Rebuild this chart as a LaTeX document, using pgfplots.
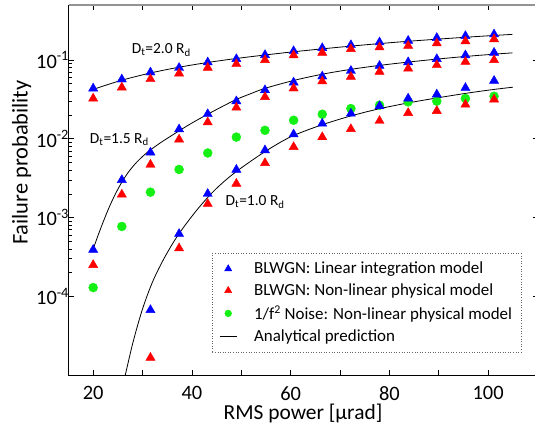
\documentclass[border=0pt]{standalone}
\usepackage{fontspec}
\setmainfont{Carlito}
\usepackage{pgfplots}
\pgfplotsset{compat=1.18}
\usepackage{pgfplotstable}

\definecolor{myblue}{RGB}{0,0,255}
\definecolor{myred}{RGB}{255,0,0}
\definecolor{mygreen}{RGB}{20,240,20}

\pgfplotstableread{
x     b2     r2     b15     r15     b10     r10     g
20.0  0.0436 0.0325 3.9e-4  2.5e-4  nan     nan     1.29e-4
25.8  0.0568 0.0449 3.0e-3  1.96e-3 nan     nan     7.7e-4
31.6  0.0697 0.0573 6.7e-3  4.7e-3  6.7e-5  1.66e-5 2.1e-3
37.4  0.0797 0.0676 0.0132  9.8e-3  6.2e-4  4.07e-4 4.08e-3
43.2  0.0935 0.0800 0.0206  0.0162  2.0e-3  1.49e-3 6.6e-3
49.0  0.103  0.0889 0.030   0.0249  4.05e-3 2.69e-3 0.0105
54.8  0.116  0.100  0.0415  0.034   7.15e-3 4.92e-3 0.0128
60.6  0.130  0.115  0.052   0.0437  0.0114  7.87e-3 0.0172
66.4  0.142  0.124  0.062   0.0537  0.0156  0.0105  0.0205
72.2  0.155  0.138  0.073   0.0614  0.0209  0.0133  0.0242
78.0  0.168  0.145  0.0847  0.071   0.026   0.0169  0.0267
83.8  0.176  0.152  0.094   0.078   0.0325  0.0213  0.0294
89.6  0.191  0.163  0.103   0.0863  0.0366  0.0226  0.030
95.4  0.202  0.173  0.115   0.095   0.0443  0.0272  0.0325
101.2 0.212  0.184  0.124   0.100   0.0546  0.0316  0.0347
}\pts

\pgfplotstableread{
x     y
20.0  0.0424
25.7  0.0552
31.7  0.0687
37.5  0.0813
43.3  0.0933
49.0  0.1047
54.8  0.1159
60.6  0.1274
66.4  0.1387
72.2  0.1503
78.0  0.1618
83.8  0.173
89.5  0.1837
95.3  0.1945
101.1 0.2051
104.9 0.2118
}\lineA

\pgfplotstableread{
x     y
20.0  3.98e-4
21.0  5.96e-4
22.0  8.71e-4
23.0  1.245e-3
24.0  1.718e-3
25.0  2.29e-3
26.0  2.95e-3
27.0  3.67e-3
28.0  4.42e-3
29.0  5.19e-3
30.0  5.96e-3
31.0  6.76e-3
32.5  7.94e-3
34.0  9.23e-3
35.5  0.0106
37.5  0.01274
40.0  0.01585
43.0  0.0202
46.0  0.0254
49.0  0.0316
52.0  0.0376
54.8  0.0437
60.6  0.0550
66.4  0.0661
72.2  0.0762
78.0  0.0855
83.8  0.0942
89.5  0.1026
95.3  0.1109
101.1 0.1186
104.9 0.1233
}\lineB

\pgfplotstableread{
x     y
26.0  7.24e-6
28.0  2.51e-5
30.0  6.92e-5
32.0  1.51e-4
34.0  2.75e-4
36.0  4.57e-4
38.0  7.08e-4
41.0  1.245e-3
44.0  2.04e-3
47.0  3.05e-3
50.0  4.27e-3
55.0  7.0e-3
60.0  0.01059
66.0  0.01479
72.0  0.01936
78.0  0.0241
84.0  0.0287
90.0  0.0333
96.0  0.0382
101.0 0.0422
105.0 0.0452
}\lineC

\begin{document}
\begin{tikzpicture}
\begin{axis}[
  name=ax,
  scale only axis,
  width=469bp, height=370bp,
  ymode=log,
  xmin=15, xmax=110, ymin=1e-5, ymax=0.5,
  xtick={20,30,...,100},
  xticklabels={20,,40,,60,,80,,100},
  ytick={1e-4,1e-3,1e-2,1e-1},
  yticklabels={10\textsuperscript{-4},10\textsuperscript{-3},10\textsuperscript{-2},10\textsuperscript{-1}},
  tick align=inside,
  major tick length=5bp, minor tick length=3bp,
  axis line style={black, line width=0.8bp},
  tick style={black, line width=0.6bp},
  ticklabel style={font=\fontsize{20.5}{22}\selectfont},
  xticklabel style={yshift=-8bp},
  yticklabel style={xshift=4bp},
  xlabel={RMS power [μrad]},
  ylabel={Failure probability},
  xlabel style={font=\fontsize{21.5}{24}\selectfont, yshift=3bp},
  ylabel style={font=\fontsize{22.5}{24}\selectfont, at={(axis description cs:-0.1,0.574)}, anchor=center},
  clip=true,
  legend cell align=left,
  legend style={at={(0.306,0.330)}, anchor=north west,
    draw=black!60, dotted, line width=0.6bp,
    font=\fontsize{17}{19}\selectfont, row sep=4.5bp,
    inner xsep=7bp, inner ysep=7bp,
    /tikz/every odd column/.append style={column sep=15bp}},
  after end axis/.code={
    \draw[gray!85, line width=1.4bp] (rel axis cs:0,1) -- (rel axis cs:1,1);
  },
]
\addlegendimage{only marks, solid, mark=triangle*, mark size=4bp, color=myblue}
\addlegendentry{BLWGN: Linear integration model}
\addlegendimage{only marks, solid, mark=triangle*, mark size=4bp, color=myred}
\addlegendentry{BLWGN: Non-linear physical model}
\addlegendimage{only marks, solid, mark=*, mark size=3.3bp, color=mygreen}
\addlegendentry{1/f\textsuperscript{2} Noise: Non-linear physical model}
\addlegendimage{solid, black, line width=0.8bp}
\addlegendentry{Analytical prediction}

\addplot[forget plot, only marks, mark=*, mark size=4.5bp, color=mygreen] table[x=x, y=g] {\pts};
\addplot[forget plot, only marks, mark=triangle*, mark size=5.3bp, color=myblue] table[x=x, y=b2] {\pts};
\addplot[forget plot, only marks, mark=triangle*, mark size=5.3bp, color=myblue] table[x=x, y=b15] {\pts};
\addplot[forget plot, only marks, mark=triangle*, mark size=5.3bp, color=myblue] table[x=x, y=b10] {\pts};
\addplot[forget plot, only marks, mark=triangle*, mark size=5.3bp, color=myred] table[x=x, y=r2] {\pts};
\addplot[forget plot, only marks, mark=triangle*, mark size=5.3bp, color=myred] table[x=x, y=r15] {\pts};
\addplot[forget plot, only marks, mark=triangle*, mark size=5.3bp, color=myred] table[x=x, y=r10] {\pts};
\addplot[forget plot, black, line width=0.8bp, smooth, no marks] table {\lineA};
\addplot[forget plot, black, line width=0.8bp, smooth, no marks] table {\lineB};
\addplot[forget plot, black, line width=0.8bp, smooth, no marks] table {\lineC};

\node[font=\fontsize{15.5}{18}\selectfont] at (axis cs:33.8,0.134) {D\textsubscript{t}=2.0 R\textsubscript{d}};
\node[font=\fontsize{15.5}{18}\selectfont] at (axis cs:25.3,0.0098) {D\textsubscript{t}=1.5 R\textsubscript{d}};
\node[font=\fontsize{15.5}{18}\selectfont] at (axis cs:52.8,0.00158) {D\textsubscript{t}=1.0 R\textsubscript{d}};
\end{axis}
\pgfresetboundingbox
\useasboundingbox ([xshift=-68.5bp,yshift=-56bp]ax.south west) rectangle ([xshift=-2.5bp,yshift=5bp]ax.north east);
\end{tikzpicture}
\end{document}
